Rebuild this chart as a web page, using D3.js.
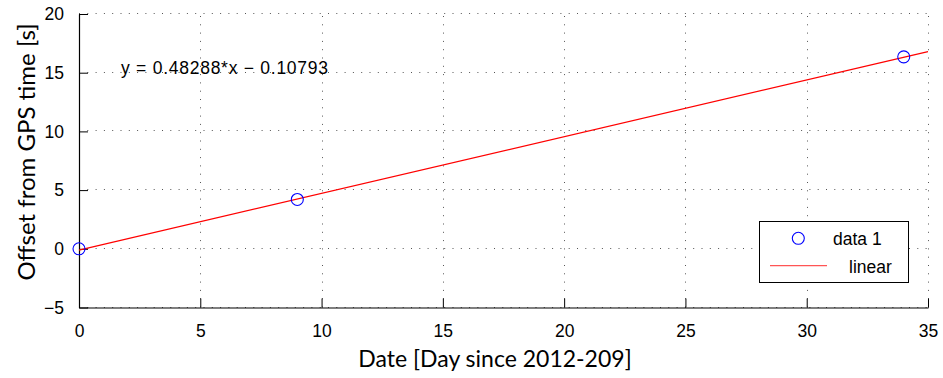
<!DOCTYPE html>
<html>
<head>
<meta charset="utf-8">
<script src="https://cdn.jsdelivr.net/npm/d3@7"></script>
<style>
  html, body { margin: 0; padding: 0; background: #fff; }
  svg { display: block; }
</style>
</head>
<body>
<svg id="chart" width="943" height="378"></svg>
<script>
// Observed clock offsets
const days = [0, 9, 34];
const offsets = [0, 4.2, 16.35];

// Linear fit coefficients
const fitSlope = 0.48288;
const fitIntercept = -0.10793;

const xTicks = [0, 5, 10, 15, 20, 25, 30, 35];
const yTicks = [-5, 0, 5, 10, 15, 20];

const xTitle = "Date [Day since 2012-209]";
const yTitle = "Offset from GPS time [s]";
const equationLabel = "y = 0.48288*x \u2212 0.10793";
const legendLabels = ["data 1", "linear"];

const svg = d3.select("#chart");
const plotLeft = 79, plotRight = 928, plotTop = 14, plotBottom = 307.5;

const x = d3.scaleLinear().domain([0, 35]).range([plotLeft, plotRight]);
const y = d3.scaleLinear().domain([-5, 20]).range([plotBottom, plotTop]);

const tickFont = "'Liberation Sans', Arial, Helvetica, sans-serif";
const titleFont = "Lato, 'Open Sans', sans-serif";
const fmt = d => (d < 0 ? "\u2212" + Math.abs(d) : String(d));

// Dotted grid
const grid = svg.append("g").attr("stroke", "#555").attr("stroke-width", 1)
  .attr("stroke-dasharray", "1,7.3");
grid.selectAll("line.gx").data(xTicks.filter(d => d > 0)).join("line")
  .attr("x1", d => Math.round(x(d)) + 0.5).attr("x2", d => Math.round(x(d)) + 0.5)
  .attr("y1", plotBottom).attr("y2", plotTop);
grid.selectAll("line.gy").data(yTicks).join("line")
  .attr("y1", d => Math.round(y(d)) - 0.5).attr("y2", d => Math.round(y(d)) - 0.5)
  .attr("x1", plotLeft).attr("x2", plotRight);

// Axes (bottom and left only)
const xAxis = d3.axisBottom(x).tickValues(xTicks).tickSizeInner(-9).tickSizeOuter(0)
  .tickPadding(17).tickFormat(fmt);
const gx = svg.append("g").attr("transform", `translate(0,${plotBottom})`).call(xAxis);
const yAxis = d3.axisLeft(y).tickValues(yTicks).tickSizeInner(-9).tickSizeOuter(0)
  .tickPadding(15).tickFormat(fmt);
const gy = svg.append("g").attr("transform", `translate(${plotLeft},0)`).call(yAxis);

[gx, gy].forEach(g => {
  g.select(".domain").attr("stroke", "#000").attr("stroke-width", 1.2);
  g.selectAll(".tick line").attr("stroke", "#000").attr("stroke-width", 1);
  g.selectAll(".tick text").attr("fill", "#000")
    .style("font-family", tickFont).style("font-size", "17.5px");
});

// Fitted line across the whole x range
const lineGen = d3.line().x(d => x(d)).y(d => y(fitSlope * d + fitIntercept));
svg.append("path").datum(x.domain())
  .attr("d", lineGen).attr("fill", "none").attr("stroke", "#ff0000").attr("stroke-width", 1.2);

// Data points
svg.append("g").selectAll("circle").data(days).join("circle")
  .attr("cx", (d) => x(d)).attr("cy", (d, i) => y(offsets[i])).attr("r", 6)
  .attr("fill", "none").attr("stroke", "#0000ff").attr("stroke-width", 1.1);

// Fit equation
svg.append("text").attr("x", 121).attr("y", 73.5)
  .attr("textLength", 207).attr("lengthAdjust", "spacing")
  .style("font-family", tickFont).style("font-size", "17.5px").attr("fill", "#000")
  .text(equationLabel);

// Axis titles
svg.append("text").attr("x", 495).attr("y", 367).attr("text-anchor", "middle")
  .style("font-family", titleFont).style("font-size", "23px").attr("fill", "#000")
  .text(xTitle);
svg.append("text").attr("transform", "translate(35,152) rotate(-90)")
  .attr("text-anchor", "middle")
  .style("font-family", titleFont).style("font-size", "24px").attr("fill", "#000")
  .text(yTitle);

// Legend
const lg = svg.append("g");
lg.append("rect").attr("x", 759.5).attr("y", 221.5).attr("width", 149).attr("height", 61)
  .attr("fill", "#fff").attr("stroke", "#000").attr("stroke-width", 1);
lg.append("circle").attr("cx", 798.3).attr("cy", 238.3).attr("r", 6)
  .attr("fill", "none").attr("stroke", "#0000ff").attr("stroke-width", 1.1);
lg.append("line").attr("x1", 770).attr("x2", 827).attr("y1", 265.7).attr("y2", 265.7)
  .attr("stroke", "#ff5555").attr("stroke-width", 1.2);
lg.append("text").attr("x", 833).attr("y", 245)
  .style("font-family", tickFont).style("font-size", "17.5px").text(legendLabels[0]);
lg.append("text").attr("x", 849).attr("y", 272.5)
  .style("font-family", tickFont).style("font-size", "17.5px").text(legendLabels[1]);
</script>
</body>
</html>
